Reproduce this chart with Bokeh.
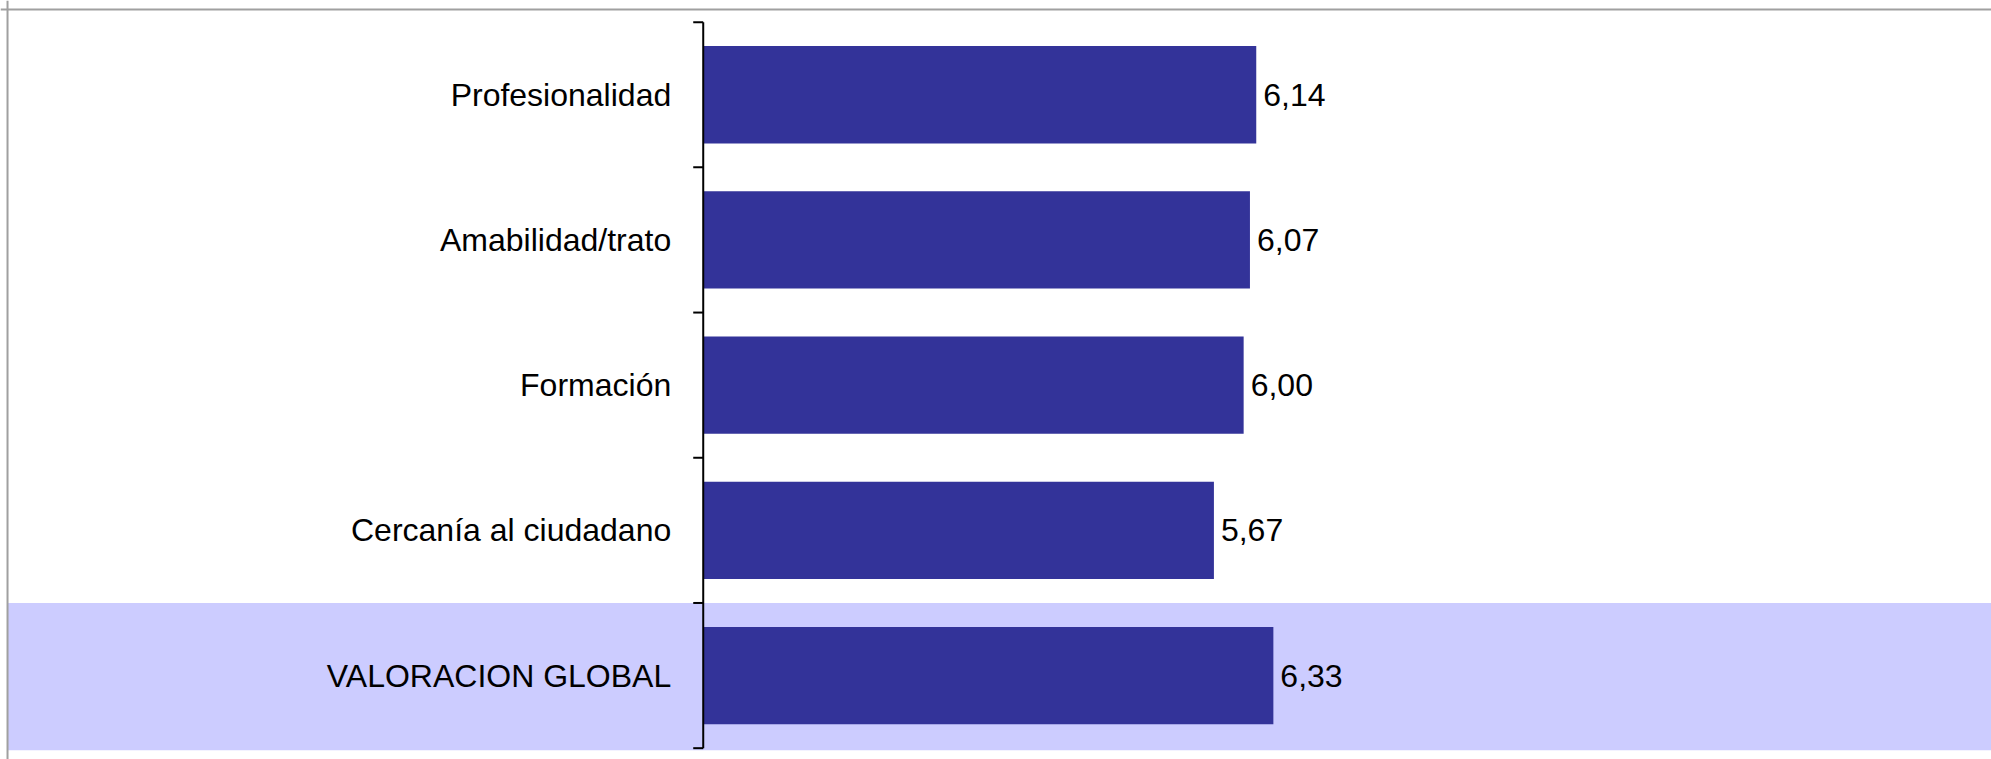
from math import pi
from bokeh.plotting import figure
from bokeh.models import Range1d, ColumnDataSource, Span, BoxAnnotation
from bokeh.embed import file_html
from bokeh.resources import INLINE
from bokeh.core.properties import value

# ---- data ----
categories = ["Profesionalidad", "Amabilidad/trato", "Formación",
              "Cercanía al ciudadano", "VALORACION GLOBAL"]
scores = [6.14, 6.07, 6.00, 5.67, 6.33]
score_labels = ["6,14", "6,07", "6,00", "5,67", "6,33"]
highlighted = "VALORACION GLOBAL"

n = len(categories)
ypos = [n - i - 0.5 for i in range(n)]  # first category on top

src = ColumnDataSource(dict(cat=categories, y=ypos, score=scores, lab=score_labels))

W, H = 1991, 759
X0, X1 = -7.802, 14.303
Y0, Y1 = -0.078, n + 0.149
p = figure(width=W, height=H, output_backend="svg", toolbar_location=None,
           x_range=Range1d(X0, X1), y_range=Range1d(Y0, Y1),
           x_axis_location=None, y_axis_location=None, min_border=0,
           background_fill_color="white", border_fill_color="white")
p.grid.visible = False
p.outline_line_color = None

BORDER_X = -7.724
BORDER_Y = n + 0.0875

# highlighted band
hi = categories.index(highlighted)
band = BoxAnnotation(bottom=ypos[hi] - 0.514, top=ypos[hi] + 0.5, left=BORDER_X,
                     fill_color="#CCCCFF", fill_alpha=1.0, line_color=None,
                     level="underlay")
p.add_layout(band)

# bars
p.hbar(y="y", left=0, right="score", height=0.67, source=src,
       fill_color="#333399", line_color=None)

# axis line and ticks between categories
p.segment(x0=0, y0=0, x1=0, y1=n, line_color="black", line_width=2)
p.ray(x=0, y=list(range(n + 1)), length=10, length_units="screen", angle=pi,
      line_color="black", line_width=2)

font = value("Liberation Sans")
# category labels
p.text(x=0, y="y", text="cat", source=src, x_offset=-32, text_align="right",
       text_baseline="middle", text_font=font, text_font_size="32px",
       text_color="black")
# value labels
p.text(x="score", y="y", text="lab", source=src, x_offset=7, text_align="left",
       text_baseline="middle", text_font=font, text_font_size="32px",
       text_color="black")

# chart-area border (top and left)
p.add_layout(Span(location=BORDER_Y, dimension="width", line_color="#A0A0A0", line_width=2))
p.add_layout(Span(location=BORDER_X, dimension="height", line_color="#A0A0A0", line_width=2))

open("out.html", "w").write(file_html(p, INLINE))
